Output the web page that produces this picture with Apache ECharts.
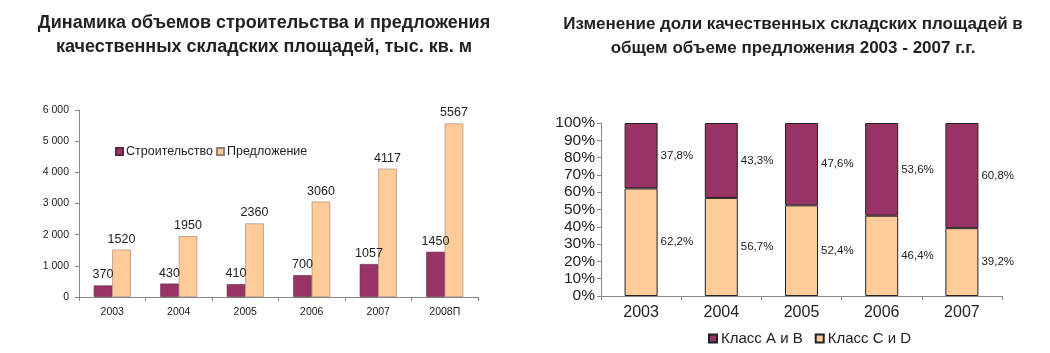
<!DOCTYPE html>
<html>
<head>
<meta charset="utf-8">
<script src="https://cdn.jsdelivr.net/npm/echarts@6/dist/echarts.min.js"></script>
<style>
  html, body { margin: 0; padding: 0; background: #fff; }
  #chart { width: 1050px; height: 353px; }
</style>
</head>
<body>
<div id="chart"></div>
<script>
const years = ["2003", "2004", "2005", "2006", "2007", "2008П"];
const construction = [370, 430, 410, 700, 1057, 1450];
const supply = [1520, 1950, 2360, 3060, 4117, 5567];

const shareYears = ["2003", "2004", "2005", "2006", "2007"];
const classAB = [37.8, 43.3, 47.6, 53.6, 60.8];
const classCD = [62.2, 56.7, 52.4, 46.4, 39.2];

const purple = "#993366";
const peach = "#FFCC99";
const font = "Liberation Sans, Arial, sans-serif";

const chart = echarts.init(document.getElementById("chart"));
chart.setOption({
  animation: false,
  textStyle: { fontFamily: font },
  title: [
    {
      text: "Динамика объемов строительства и предложения\nкачественных складских площадей, тыс. кв. м",
      left: 259, top: 6, textAlign: "center",
      textStyle: { fontSize: 18, fontWeight: "bold", color: "#222", lineHeight: 24, fontFamily: font },
    },
    {
      text: "Изменение доли качественных складских площадей в\nобщем объеме предложения 2003 - 2007 г.г.",
      left: 788, top: 7, textAlign: "center",
      textStyle: { fontSize: 17, fontWeight: "bold", color: "#222", lineHeight: 24, fontFamily: font },
    },
  ],
  legend: [
    {
      data: ["Строительство", "Предложение"],
      left: 110, top: 140, itemWidth: 7, itemHeight: 7, itemGap: 3,
      icon: "rect",
      textStyle: { fontSize: 12.5, color: "#222", padding: [0, 0, 0, -2] },
    },
    {
      data: ["Класс A и B", "Класс C и D"],
      left: 703, top: 326, itemWidth: 8, itemHeight: 8, itemGap: 12,
      icon: "rect",
      textStyle: { fontSize: 15, color: "#222", padding: [0, 0, 0, -1] },
    },
  ],
  grid: [
    { left: 79, right: 572, top: 110, bottom: 56 },
    { left: 601, right: 48, top: 123, bottom: 57 },
  ],
  xAxis: [
    {
      gridIndex: 0, type: "category", data: years,
      axisLine: { lineStyle: { color: "#888" } },
      axisTick: { show: true, alignWithLabel: false, length: 4, lineStyle: { color: "#888" } },
      axisLabel: { fontSize: 10.5, color: "#222", margin: 10 },
    },
    {
      gridIndex: 1, type: "category", data: shareYears,
      axisLine: { lineStyle: { color: "#888" } },
      axisTick: { show: true, length: 4, lineStyle: { color: "#888" } },
      axisLabel: { fontSize: 16, color: "#222", margin: 9 },
    },
  ],
  yAxis: [
    {
      gridIndex: 0, type: "value", min: 0, max: 6000, interval: 1000,
      splitLine: { show: false },
      axisLine: { show: true, lineStyle: { color: "#888" } },
      axisTick: { show: true, length: 4, lineStyle: { color: "#888" } },
      axisLabel: {
        fontSize: 10.5, color: "#222", margin: 10,
        formatter: (v) => (v >= 1000 ? Math.floor(v / 1000) + " " + String(v % 1000).padStart(3, "0") : String(v)),
      },
    },
    {
      gridIndex: 1, type: "value", min: 0, max: 100, interval: 10,
      splitLine: { show: false },
      axisLine: { show: true, lineStyle: { color: "#888" } },
      axisTick: { show: true, length: 4, lineStyle: { color: "#888" } },
      axisLabel: { fontSize: 15.5, color: "#222", margin: 6, formatter: "{value}%" },
    },
  ],
  series: [
    {
      name: "Строительство", type: "bar", xAxisIndex: 0, yAxisIndex: 0,
      data: construction, barWidth: 18.5, barGap: "0%",
      itemStyle: { color: purple, borderColor: "#5a2a40", borderWidth: 0.6 },
      label: { show: true, position: "top", fontSize: 12.5, color: "#222", distance: 4 },
    },
    {
      name: "Предложение", type: "bar", xAxisIndex: 0, yAxisIndex: 0,
      data: supply, barWidth: 18.5, barGap: "0%",
      itemStyle: { color: peach, borderColor: "#9a8070", borderWidth: 0.6 },
      label: { show: true, position: "top", fontSize: 12.5, color: "#222", distance: 4 },
    },
    {
      name: "Класс C и D", type: "bar", xAxisIndex: 1, yAxisIndex: 1, stack: "share",
      data: classCD, barWidth: 33,
      itemStyle: { color: peach, borderColor: "#222", borderWidth: 1 },
      label: {
        show: true, position: "right", distance: 3, fontSize: 11.5, color: "#222",
        formatter: (p) => p.value.toFixed(1).replace(".", ",") + "%",
      },
    },
    {
      name: "Класс A и B", type: "bar", xAxisIndex: 1, yAxisIndex: 1, stack: "share",
      data: classAB, barWidth: 33,
      itemStyle: { color: purple, borderColor: "#222", borderWidth: 1 },
      label: {
        show: true, position: "right", distance: 3, fontSize: 11.5, color: "#222",
        formatter: (p) => p.value.toFixed(1).replace(".", ",") + "%",
      },
    },
  ],
});
</script>
</body>
</html>
